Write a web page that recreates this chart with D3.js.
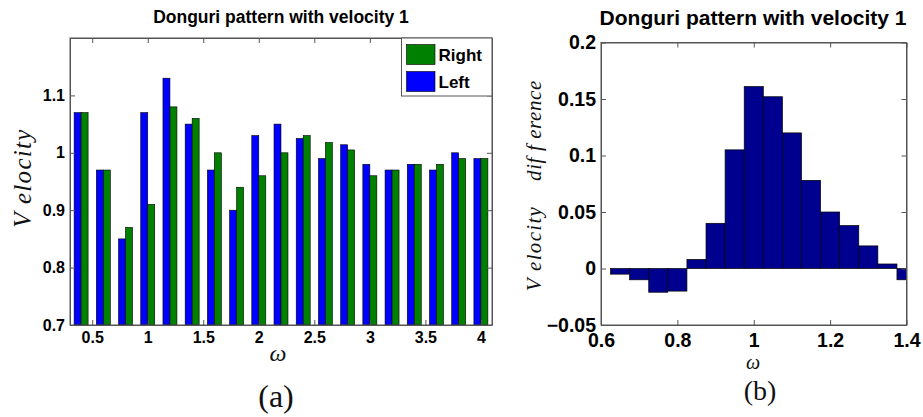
<!DOCTYPE html>
<html>
<head>
<meta charset="utf-8">
<script src="https://cdn.jsdelivr.net/npm/d3@7"></script>
<style>
  body { margin: 0; background: #fff; }
  svg { display: block; }
  .tick text { font-family: "Liberation Sans", Arial, sans-serif; font-weight: bold; fill: #000; }
  .math { font-family: "Liberation Serif", "Times New Roman", serif; font-style: italic; fill: #111; }
  .cap { font-family: "Liberation Serif", "Times New Roman", serif; fill: #111; }
  .ttl { font-family: "Liberation Sans", Arial, sans-serif; font-weight: bold; fill: #000; }
</style>
</head>
<body>
<svg id="fig" width="923" height="417"></svg>
<script>
// panel (a): grouped bars, velocity per omega
const omegaA = [0.4, 0.6, 0.8, 1.0, 1.2, 1.4, 1.6, 1.8, 2.0, 2.2, 2.4, 2.6, 2.8, 3.0, 3.2, 3.4, 3.6, 3.8, 4.0]
const rightVel = [1.07, 0.97, 0.87, 0.91, 1.08, 1.06, 1.00, 0.94, 0.96, 1.00, 1.03, 1.018, 1.005, 0.96, 0.97, 0.98, 0.98, 0.99, 0.99]
const leftVel = [1.07, 0.97, 0.85, 1.07, 1.13, 1.05, 0.97, 0.90, 1.03, 1.05, 1.025, 0.99, 1.014, 0.98, 0.97, 0.98, 0.97, 1.00, 0.99]
const xTicksA = [0.5, 1, 1.5, 2, 2.5, 3, 3.5, 4]
const yTicksA = [0.7, 0.8, 0.9, 1, 1.1]

// panel (b): velocity difference per omega bin
const omegaB = [0.65, 0.70, 0.75, 0.80, 0.85, 0.90, 0.95, 1.00, 1.05, 1.10, 1.15, 1.20, 1.25, 1.30, 1.35, 1.40]
const velDiff = [-0.005, -0.010, -0.021, -0.020, 0.008, 0.040, 0.105, 0.161, 0.152, 0.120, 0.078, 0.050, 0.038, 0.020, 0.004, -0.010]
const xTicksB = [0.6, 0.8, 1, 1.2, 1.4]
const yTicksB = [-0.05, 0, 0.05, 0.1, 0.15, 0.2]

const title = "Donguri pattern with velocity 1"
const axisColor = "#555"

const svg = d3.select("#fig")
svg.append("rect").attr("width", 923).attr("height", 417).attr("fill", "#fff")

// MATLAB style box: ticks inside on all four sides
function drawBox(g, x, y, xTicks, yTicks, fs, xPad, yPad) {
    const [x0, x1] = x.range()
    const [y0, y1] = y.range()

    g.append("g")
        .attr("transform", `translate(0,${y0})`)
        .call(d3.axisBottom(x).tickValues(xTicks).tickSizeInner(-5).tickSizeOuter(0).tickPadding(xPad).tickFormat(d3.format("")))
        .call(a => a.selectAll("text").style("font-size", fs + "px"))
    g.append("g")
        .attr("transform", `translate(0,${y1})`)
        .call(d3.axisTop(x).tickValues(xTicks).tickSizeInner(-5).tickSizeOuter(0).tickFormat(""))
    g.append("g")
        .attr("transform", `translate(${x0},0)`)
        .call(d3.axisLeft(y).tickValues(yTicks).tickSizeInner(-5).tickSizeOuter(0).tickPadding(yPad).tickFormat(d3.format("")))
        .call(a => a.selectAll("text").style("font-size", fs + "px"))
    g.append("g")
        .attr("transform", `translate(${x1},0)`)
        .call(d3.axisRight(y).tickValues(yTicks).tickSizeInner(-5).tickSizeOuter(0).tickFormat(""))

    g.selectAll(".domain").attr("stroke", axisColor)
    g.selectAll(".tick line").attr("stroke", axisColor)
    g.append("rect")
        .attr("x", x0).attr("y", y1)
        .attr("width", x1 - x0).attr("height", y0 - y1)
        .attr("fill", "none").attr("stroke", axisColor)
}

// ---------- (a) ----------
{
    const x = d3.scaleLinear().domain([0.3, 4.1]).range([70, 492])
    const y = d3.scaleLinear().domain([0.7, 1.2]).range([325, 38])
    const g = svg.append("g")

    const bw = (x(0.2) - x(0)) * 0.315

    g.append("g").selectAll("rect")
        .data(omegaA)
        .join("rect")
        .attr("x", d => x(d) - bw)
        .attr("y", (d, i) => y(leftVel[i]))
        .attr("width", bw)
        .attr("height", (d, i) => y(0.7) - y(leftVel[i]))
        .attr("fill", "#0000ff")
        .attr("stroke", "#000")
        .attr("stroke-width", 0.6)

    g.append("g").selectAll("rect")
        .data(omegaA)
        .join("rect")
        .attr("x", d => x(d))
        .attr("y", (d, i) => y(rightVel[i]))
        .attr("width", bw)
        .attr("height", (d, i) => y(0.7) - y(rightVel[i]))
        .attr("fill", "#008000")
        .attr("stroke", "#000")
        .attr("stroke-width", 0.6)

    drawBox(g, x, y, xTicksA, yTicksA, 16, 7, 5)

    // legend
    const lg = g.append("g")
    lg.append("rect").attr("x", 401.5).attr("y", 38).attr("width", 90.5).attr("height", 58)
        .attr("fill", "#fff").attr("stroke", axisColor)
    const items = [["Right", "#008000"], ["Left", "#0000ff"]]
    items.forEach(([name, c], i) => {
        lg.append("rect").attr("x", 406.5).attr("y", 44.5 + i * 27).attr("width", 28.5).attr("height", 20)
            .attr("fill", c).attr("stroke", "#000").attr("stroke-width", 0.6)
        lg.append("text").attr("class", "ttl").attr("x", 438.5).attr("y", 60.5 + i * 27.5)
            .style("font-size", "17px").text(name)
    })

    g.append("text").attr("class", "ttl").attr("x", 281).attr("y", 23)
        .attr("text-anchor", "middle").style("font-size", "17.5px").text(title)

    g.append("text").attr("class", "math")
        .attr("transform", "translate(31,178) rotate(-90)")
        .attr("text-anchor", "middle").style("font-size", "25px")
        .style("letter-spacing", "1.3px").text("V elocity")
    g.append("text").attr("class", "math").attr("x", 278).attr("y", 361)
        .attr("text-anchor", "middle").style("font-size", "24px").text("ω")
    g.append("text").attr("class", "cap").attr("x", 276).attr("y", 407)
        .attr("text-anchor", "middle").style("font-size", "32px").text("(a)")
}

// ---------- (b) ----------
{
    const x = d3.scaleLinear().domain([0.6, 1.4]).range([601, 906.5])
    const y = d3.scaleLinear().domain([-0.05, 0.2]).range([325, 42.5])
    const g = svg.append("g")

    svg.append("clipPath").attr("id", "clipB")
        .append("rect").attr("x", 601).attr("y", 42.5).attr("width", 305.5).attr("height", 282.5)

    const half = (x(0.05) - x(0)) / 2
    g.append("g").attr("clip-path", "url(#clipB)")
        .selectAll("rect")
        .data(omegaB)
        .join("rect")
        .attr("x", d => x(d) - half)
        .attr("y", (d, i) => y(Math.max(0, velDiff[i])))
        .attr("width", half * 2)
        .attr("height", (d, i) => Math.abs(y(velDiff[i]) - y(0)))
        .attr("fill", "#00008f")
        .attr("stroke", "#000")
        .attr("stroke-width", 0.7)

    drawBox(g, x, y, xTicksB, yTicksB, 19.5, 8, 5)

    g.append("text").attr("class", "ttl").attr("x", 753).attr("y", 25)
        .attr("text-anchor", "middle").style("font-size", "21px").text(title)

    // y label is two LaTeX words with a wide gap
    g.append("text").attr("class", "math")
        .attr("transform", "translate(541,248.5) rotate(-90)")
        .attr("text-anchor", "middle").style("font-size", "21px")
        .style("letter-spacing", "1.3px").text("V elocity")
    g.append("text").attr("class", "math")
        .attr("transform", "translate(541,130.5) rotate(-90)")
        .attr("text-anchor", "middle").style("font-size", "21px")
        .style("letter-spacing", "0.6px").text("dif f erence")
    g.append("text").attr("class", "math").attr("x", 753).attr("y", 369)
        .attr("text-anchor", "middle").style("font-size", "20px").text("ω")
    g.append("text").attr("class", "cap").attr("x", 760).attr("y", 400)
        .attr("text-anchor", "middle").style("font-size", "28px").text("(b)")
}
</script>
</body>
</html>
